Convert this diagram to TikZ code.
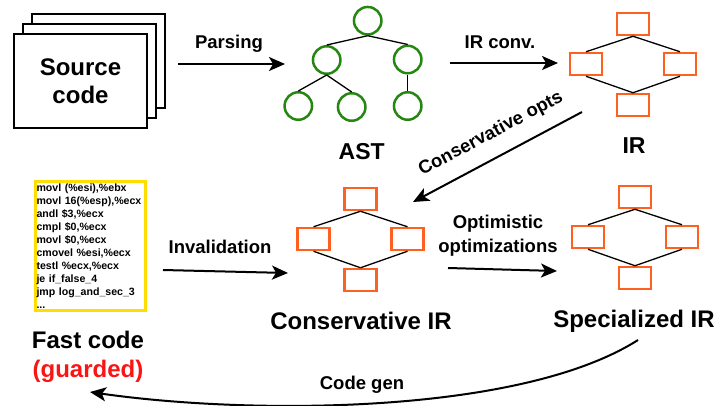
\documentclass[tikz,border=0pt]{standalone}
\usepackage{fontspec}
\setmainfont{Liberation Sans}
\usetikzlibrary{arrows.meta}
\definecolor{astgreen}{RGB}{38,134,18}
\definecolor{irorange}{RGB}{255,95,31}
\definecolor{codeyellow}{RGB}{255,221,0}
\definecolor{guardred}{RGB}{250,20,20}
\newcommand\myirgraph[3]{%
  \node[irbox] (#1-t) at (#2,#3) {};
  \node[irbox] (#1-l) at ({#2-47},{#3+40}) {};
  \node[irbox] (#1-r) at ({#2+47},{#3+40}) {};
  \node[irbox] (#1-b) at (#2,{#3+81}) {};
  \draw[edge] (#1-t.south) -- (#1-l.north);
  \draw[edge] (#1-t.south) -- (#1-r.north);
  \draw[edge] (#1-l.south) -- (#1-b.north);
  \draw[edge] (#1-r.south) -- (#1-b.north);
}
\begin{document}
\begin{tikzpicture}[x=1pt,y=-1pt,
  pagebox/.style={draw,line width=1.8pt,fill=white,minimum width=133pt,minimum height=94pt,inner sep=0pt},
  astnode/.style={circle,draw=astgreen,line width=2.5pt,minimum size=27.5pt,inner sep=0pt},
  irbox/.style={rectangle,draw=irorange,line width=2.5pt,fill=white,minimum width=32pt,minimum height=22pt,inner sep=0pt},
  edge/.style={line width=1.3pt},
  flow/.style={line width=2pt,-{Stealth[length=16pt,width=14pt,inset=4pt]}},
  biglabel/.style={font=\fontsize{24}{28}\selectfont\bfseries,align=center,inner sep=0pt},
  edgelabel/.style={font=\fontsize{18.5}{23}\selectfont\bfseries,inner sep=0pt},
  codebox/.style={draw=codeyellow,line width=3pt,minimum width=110pt,minimum height=128.7pt,text width=107pt,align=left,inner sep=0pt,font=\fontsize{10.6}{13}\selectfont\bfseries}
]
\useasboundingbox (0,0) rectangle (719,405);

% source code pages
\node[pagebox] (page3) at (98.5,61) {};
\node[pagebox] (page2) at (89.5,71) {};
\node[pagebox,biglabel] (src) at (80.5,81) {Source\\code};

% AST
\node[astnode] (root) at (367.7,20.7) {};
\node[astnode] (al) at (326.7,60) {};
\node[astnode] (ar) at (407.7,59.5) {};
\node[astnode] (all) at (298.3,106) {};
\node[astnode] (alm) at (351.7,107) {};
\node[astnode] (arl) at (407.7,106) {};
\draw[edge] (root.south) -- (al.north);
\draw[edge] (root.south) -- (ar.north);
\draw[edge] (al.south) -- (all.north);
\draw[edge] (al.south) -- (alm.north);
\draw[edge] (ar.south) -- (arl.north);
\node[biglabel,anchor=base,font=\fontsize{23}{28}\selectfont\bfseries] (astlbl) at (361.7,159) {AST};

% IR graphs
\myirgraph{ir}{633}{24}
\node[biglabel,anchor=base,font=\fontsize{23}{28}\selectfont\bfseries] (irlbl) at (634,153) {IR};
\myirgraph{cir}{360.5}{199}
\node[biglabel,anchor=base] (cirlbl) at (361,329) {Conservative IR};
\myirgraph{sir}{635}{197}
\node[biglabel,anchor=base] (sirlbl) at (634,327) {Specialized IR};

% code
\node[codebox] (code) at (90,246) {movl (\%esi),\%ebx\\movl 16(\%esp),\%ecx\\andl \$3,\%ecx\\cmpl \$0,\%ecx\\movl \$0,\%ecx\\cmovel \%esi,\%ecx\\testl \%ecx,\%ecx\\je if\_false\_4\\jmp log\_and\_sec\_3\\...};
\node[biglabel,anchor=base] (fast) at (88,348) {Fast code};
\node[biglabel,anchor=base,text=guardred] (guard) at (88,377) {(guarded)};

% connectors
\coordinate (pa) at (178,64);
\coordinate (pb) at (285,64);
\draw[flow] (pa) -- (pb);
\node[edgelabel,anchor=base] (parsing) at (229,48) {Parsing};

\coordinate (ia) at (450,63);
\coordinate (ib) at (558,63);
\draw[flow] (ia) -- (ib);
\node[edgelabel,anchor=base] (irconv) at (500,48) {IR conv.};

\coordinate (ca) at (582,112);
\coordinate (cb) at (413,202);
\draw[flow] (ca) -- (cb);
\node[edgelabel,rotate=28] (consopts) at (491,134) {Conservative opts};

\coordinate (va) at (163,270);
\coordinate (vb) at (288,273);
\draw[flow] (va) -- (vb);
\node[edgelabel,anchor=base] (inval) at (220,253) {Invalidation};

\coordinate (oa) at (448,268);
\coordinate (ob) at (557,271);
\draw[flow] (oa) -- (ob);
\node[edgelabel,anchor=base] (opt1) at (498,228) {Optimistic};
\node[edgelabel,anchor=base] (opt2) at (498,252) {optimizations};

\coordinate (ga) at (638,340);
\coordinate (gb) at (90,392);
\draw[flow] (ga) .. controls (520,415) and (250,415) .. (gb);
\node[edgelabel,anchor=base] (codegen) at (362,389) {Code gen};
\end{tikzpicture}
\end{document}
